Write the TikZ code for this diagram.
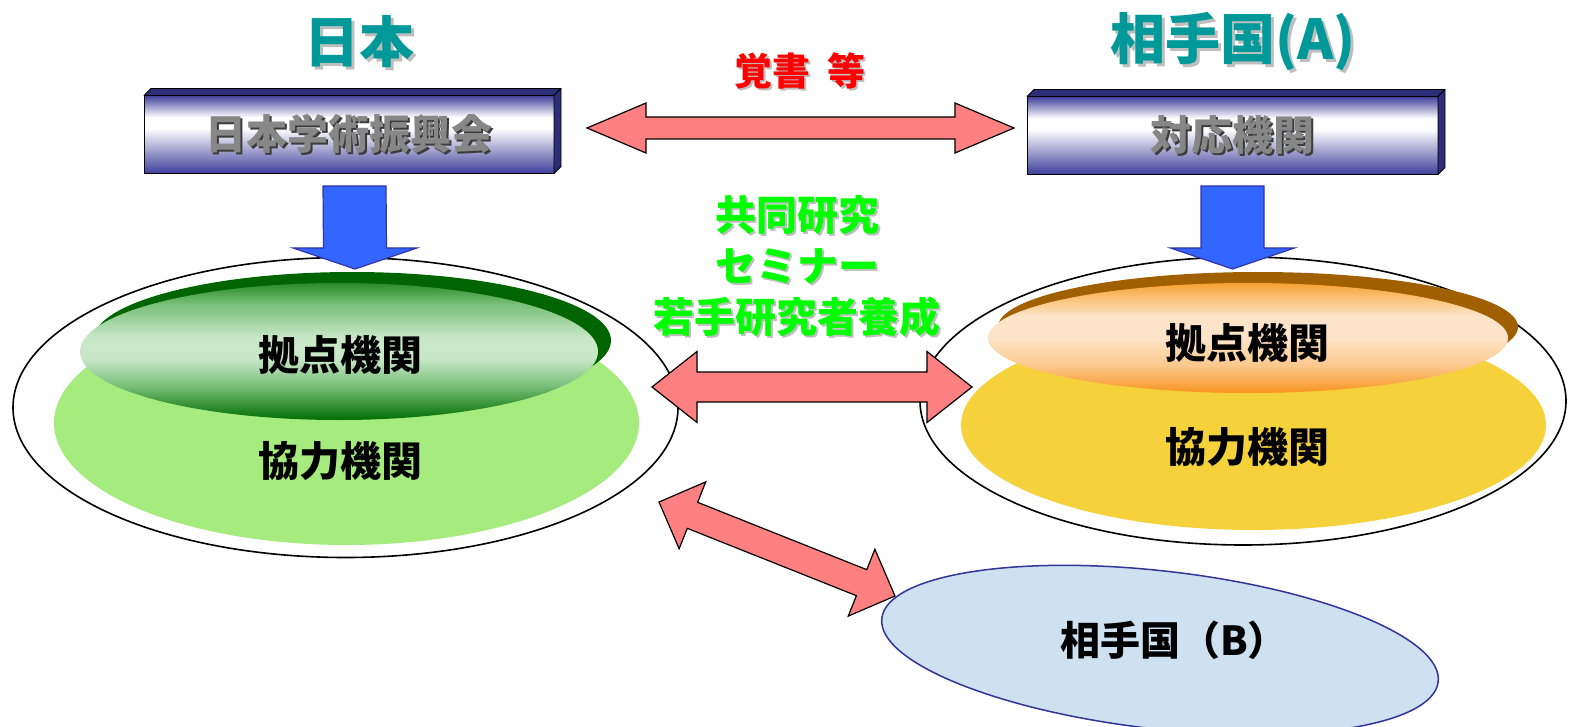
\documentclass[tikz,border=0pt]{standalone}
\usepackage{fontspec}
\setmainfont{Noto Sans CJK JP}
\usetikzlibrary{shapes.geometric,calc}
\definecolor{teal1}{RGB}{0,153,153}
\definecolor{boxblue}{RGB}{62,62,155}
\definecolor{boxdark}{RGB}{45,45,120}
\definecolor{txtgray}{RGB}{135,135,135}
\definecolor{txtshade}{RGB}{60,60,60}
\definecolor{lshade}{RGB}{190,190,190}
\definecolor{arrowred}{RGB}{255,128,128}
\definecolor{arrowblue}{RGB}{51,102,255}
\definecolor{arrowline}{RGB}{51,51,170}
\definecolor{lgreen}{RGB}{165,235,125}
\definecolor{gold}{RGB}{245,210,60}
\definecolor{dkgreen}{RGB}{0,100,0}
\definecolor{brown1}{RGB}{160,96,0}
\definecolor{lblue}{RGB}{205,225,240}
\definecolor{bline}{RGB}{51,51,153}
\definecolor{brightgreen}{RGB}{0,255,0}
\definecolor{gA}{RGB}{0,110,0}
\definecolor{gB}{RGB}{120,190,120}
\definecolor{gC}{RGB}{200,232,200}
\definecolor{gD}{RGB}{40,140,40}
\definecolor{oA}{RGB}{247,148,30}
\definecolor{oB}{RGB}{252,200,140}
\definecolor{oC}{RGB}{253,228,200}
\definecolor{oD}{RGB}{250,185,100}
\definecolor{oE}{RGB}{247,160,50}
\pgfdeclareverticalshading{boxshade}{100bp}{color(0bp)=(boxblue); color(25bp)=(boxblue); color(54bp)=(white); color(61bp)=(white); color(75bp)=(boxblue); color(100bp)=(boxblue)}
\pgfdeclareverticalshading{greenshade}{100bp}{color(0bp)=(gA); color(25bp)=(gA); color(37.5bp)=(gB); color(47.5bp)=(gC); color(55bp)=(gC); color(67.5bp)=(gB); color(75bp)=(gD); color(100bp)=(gD)}
\pgfdeclareverticalshading{orangeshade}{100bp}{color(0bp)=(oA); color(25bp)=(oA); color(37.5bp)=(oB); color(50bp)=(oC); color(60bp)=(oC); color(70bp)=(oD); color(75bp)=(oE); color(100bp)=(oE)}
\newcommand\shtxt[4]{\leavevmode\rlap{\raisebox{-#3}{\hspace*{#3}\textcolor{#2}{#4}}}\textcolor{#1}{#4}}
\newcommand\dblarrow[6]{%
  \path (#2) coordinate (dA) (#3) coordinate (dB)
    ($(dA)!#6!(dB)$) coordinate (dH1) ($(dB)!#6!(dA)$) coordinate (dH2);
  \draw[#1] (dA) -- ($(dH1)!#5!90:(dB)$) -- ($(dH1)!#4!90:(dB)$)
    -- ($(dH2)!#4!-90:(dA)$) -- ($(dH2)!#5!-90:(dA)$) -- (dB)
    -- ($(dH2)!#5!90:(dA)$) -- ($(dH2)!#4!90:(dA)$)
    -- ($(dH1)!#4!-90:(dB)$) -- ($(dH1)!#5!-90:(dB)$) -- cycle;}
\newcommand\downblock[3]{%
  \draw[#1] ($(#2)+(-31.5,0)$) -- ($(#2)+(31.5,0)$) -- ($(#3)+(31.5,-21)$)
    -- ($(#3)+(62,-21)$) -- (#3) -- ($(#3)+(-62,-21)$) -- ($(#3)+(-31.5,-21)$) -- cycle;}
\begin{document}
\begin{tikzpicture}[x=1pt,y=-1pt,
  every node/.style={inner sep=0pt,outer sep=0pt},
  jp/.style={font=\bfseries\fontsize{#1}{#1}\selectfont},
  outerell/.style={ellipse,draw=black,line width=1.6pt,fill=white},
  boxfront/.style={rectangle,shade,shading=boxshade,draw=black,line width=0.8pt,minimum width=410,minimum height=78},
  boxface/.style={fill=boxdark,draw=black,line width=0.8pt,line join=round},
  redarrow/.style={fill=arrowred,draw=black,line width=1.2pt,line join=miter},
  bluearrow/.style={fill=arrowblue,draw=arrowline,line width=1.2pt,line join=miter}]
\fill[white] (0,0) rectangle (1571,727);
\useasboundingbox (0,0) rectangle (1571,727);

% titles
\node[jp=55] (tJP) at (359,43) {\shtxt{teal1}{lshade}{3pt}{日本}};
\node[jp=55] (tA) at (1233,43) {\shtxt{teal1}{lshade}{3pt}{相手国(A)}};
\node[jp=38] (memo) at (800,72) {\shtxt{red}{lshade}{2pt}{覚書\hspace{0.45em}等}};

% boxes
\node[boxfront,jp=41] (JSPS) at (349,134.5) {\shtxt{txtgray}{txtshade}{2pt}{日本学術振興会}};
\fill[boxface] (JSPS.north west) -- ++(7,-7) -- ($(JSPS.north east)+(7,-7)$) -- (JSPS.north east) -- cycle;
\fill[boxface] (JSPS.north east) -- ++(7,-7) -- ($(JSPS.south east)+(7,-7)$) -- (JSPS.south east) -- cycle;
\node[boxfront,jp=41,minimum width=411] (PART) at (1232.5,135.5) {\shtxt{txtgray}{txtshade}{2pt}{対応機関}};
\fill[boxface] (PART.north west) -- ++(7,-7) -- ($(PART.north east)+(7,-7)$) -- (PART.north east) -- cycle;
\fill[boxface] (PART.north east) -- ++(7,-7) -- ($(PART.south east)+(7,-7)$) -- (PART.south east) -- cycle;

% Japan side
\node[outerell,minimum width=665,minimum height=300] (JPout) at (345.5,407.5) {};
\node[ellipse,fill=lgreen,minimum width=585,minimum height=244] (JPcoop) at (346.5,423) {};
\node[ellipse,fill=dkgreen,minimum width=518,minimum height=137] (JPhubsh) at (352,340.5) {};
\node[ellipse,shade,shading=greenshade,minimum width=518,minimum height=137] (JPhub) at (339,351.5) {};
\node[jp=41] (JPhubt) at (340,355) {拠点機関};
\node[jp=41] (JPcoopt) at (340,461) {協力機関};

% Partner A side
\node[outerell,minimum width=646,minimum height=288] (Aout) at (1243,401) {};
\node[ellipse,fill=gold,minimum width=585,minimum height=210] (Acoop) at (1253.5,425) {};
\node[ellipse,fill=brown1,minimum width=520,minimum height=110] (Ahubsh) at (1258,327) {};
\node[ellipse,shade,shading=orangeshade,minimum width=520,minimum height=110] (Ahub) at (1248,338) {};
\node[jp=41] (Ahubt) at (1247,343) {拠点機関};
\node[jp=41] (Acoopt) at (1247,447) {協力機関};

% Partner B
\node[ellipse,fill=lblue,draw=bline,line width=1.5pt,rotate=-6.5,minimum width=560,minimum height=158] (Bout) at (1160,650) {};
\node[jp=40] (Bt) at (1174,640) {相手国（B）};

% middle text
\node[font=\bfseries\fontsize{41}{51}\selectfont,align=center] (mid) at (797,267)
  {\shtxt{brightgreen}{lshade}{2pt}{共同研究}\\\shtxt{brightgreen}{lshade}{2pt}{セミナー}\\\shtxt{brightgreen}{lshade}{2pt}{若手研究者養成}};

% arrows
\coordinate (b1top) at (354.5,186);
\coordinate (b1tip) at (355,269);
\coordinate (b2top) at (1232.5,186);
\coordinate (b2tip) at (1232.5,269);
\downblock{bluearrow}{b1top}{b1tip}
\downblock{bluearrow}{b2top}{b2tip}

\coordinate (t1) at (587,128);
\coordinate (t2) at (1014,128);
\dblarrow{redarrow}{t1}{t2}{11pt}{25pt}{59pt}
\coordinate (m1) at (652,387);
\coordinate (m2) at (972,387);
\dblarrow{redarrow}{m1}{m2}{15pt}{35.5pt}{45pt}
\coordinate (d1) at (659,502);
\coordinate (d2) at (895,596);
\dblarrow{redarrow}{d1}{d2}{14pt}{36pt}{36pt}
\end{tikzpicture}
\end{document}
